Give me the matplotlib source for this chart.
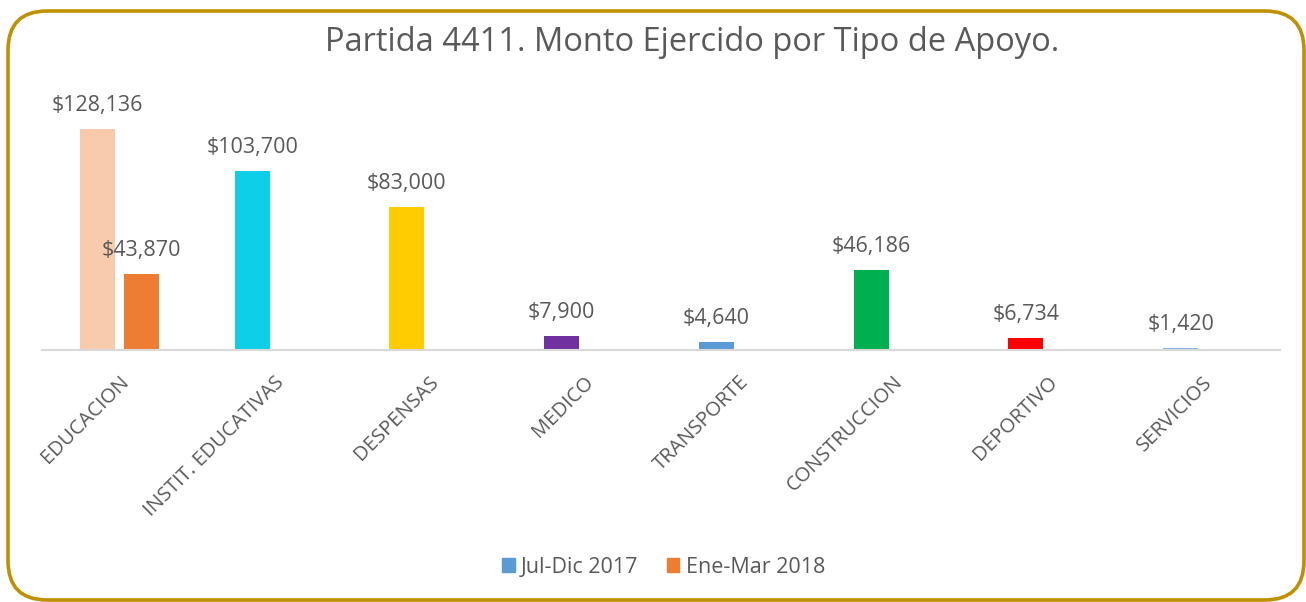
import matplotlib
matplotlib.use("Agg")
import matplotlib.pyplot as plt
from matplotlib.patches import FancyBboxPatch, Patch
import numpy as np

plt.rcParams['font.family'] = ['Open Sans', 'DejaVu Sans']

# data
categories = ["EDUCACION", "INSTIT. EDUCATIVAS", "DESPENSAS", "MEDICO",
              "TRANSPORTE", "CONSTRUCCION", "DEPORTIVO", "SERVICIOS"]
jul_dic_2017 = [128136, 103700, 83000, 7900, 4640, 46186, 6734, 1420]
ene_mar_2018 = [43870, None, None, None, None, None, None, None]
bar_colors = ["#F8CBAD", "#0DCFE8", "#FFCC00", "#7030A0",
              "#5B9BD5", "#00B050", "#FF0000", "#8DB4E2"]
series_names = ["Jul-Dic 2017", "Ene-Mar 2018"]
series_colors = ["#5B9BD5", "#ED7D31"]

txt = "#595959"
W, H = 1306, 602
fig = plt.figure(figsize=(W / 100, H / 100), dpi=100)

# rounded gold frame
frame = FancyBboxPatch((8 / W, 2 / H), 1296 / W, 589 / H,
                       boxstyle="round,pad=0,rounding_size=0.03",
                       transform=fig.transFigure, fill=False,
                       ec="#BF9000", lw=2.6, mutation_aspect=W / H)
fig.patches.append(frame)

ax = fig.add_axes([42 / W, 252 / H, 1238 / W, 242 / H])
x = np.arange(len(categories))
bw = 0.226
off = 0.142
gap = 7500  # space between bar top and its label

ax.bar(x - off, jul_dic_2017, width=bw, color=bar_colors)
for xi, v in zip(x, jul_dic_2017):
    ax.text(xi - off, v + gap, "${:,}".format(v), ha="center", va="bottom",
            fontsize=15.5, color=txt)

for xi, v in zip(x, ene_mar_2018):
    if v is None:
        continue
    ax.bar(xi + off, v, width=bw, color=series_colors[1])
    ax.text(xi + off, v + gap, "${:,}".format(v), ha="center", va="bottom",
            fontsize=15.5, color=txt)

ax.set_xlim(-0.5, len(categories) - 0.5)
ax.set_ylim(0, 140000)
for s in ["top", "right", "left"]:
    ax.spines[s].set_visible(False)
ax.spines["bottom"].set_color("#D9D9D9")
ax.spines["bottom"].set_linewidth(1.5)
ax.set_yticks([])
ax.set_xticks(x)
ax.set_xticklabels(categories, rotation=45, ha="right", rotation_mode="anchor",
                   fontsize=14.5, color=txt)
ax.tick_params(axis="x", length=0, pad=16)

fig.text(0.53, 0.93, "Partida 4411. Monto Ejercido por Tipo de Apoyo.",
         ha="center", va="center", fontsize=23.5, color=txt)

handles = [Patch(color=c, label=n) for c, n in zip(series_colors, series_names)]
fig.legend(handles=handles, loc="center", bbox_to_anchor=(0.508, 0.058), ncol=2,
           frameon=False, fontsize=15.5, handlelength=0.6, handleheight=0.6,
           handletextpad=0.3, columnspacing=1.3, labelcolor=txt)

fig.savefig("out.png", dpi=100)
